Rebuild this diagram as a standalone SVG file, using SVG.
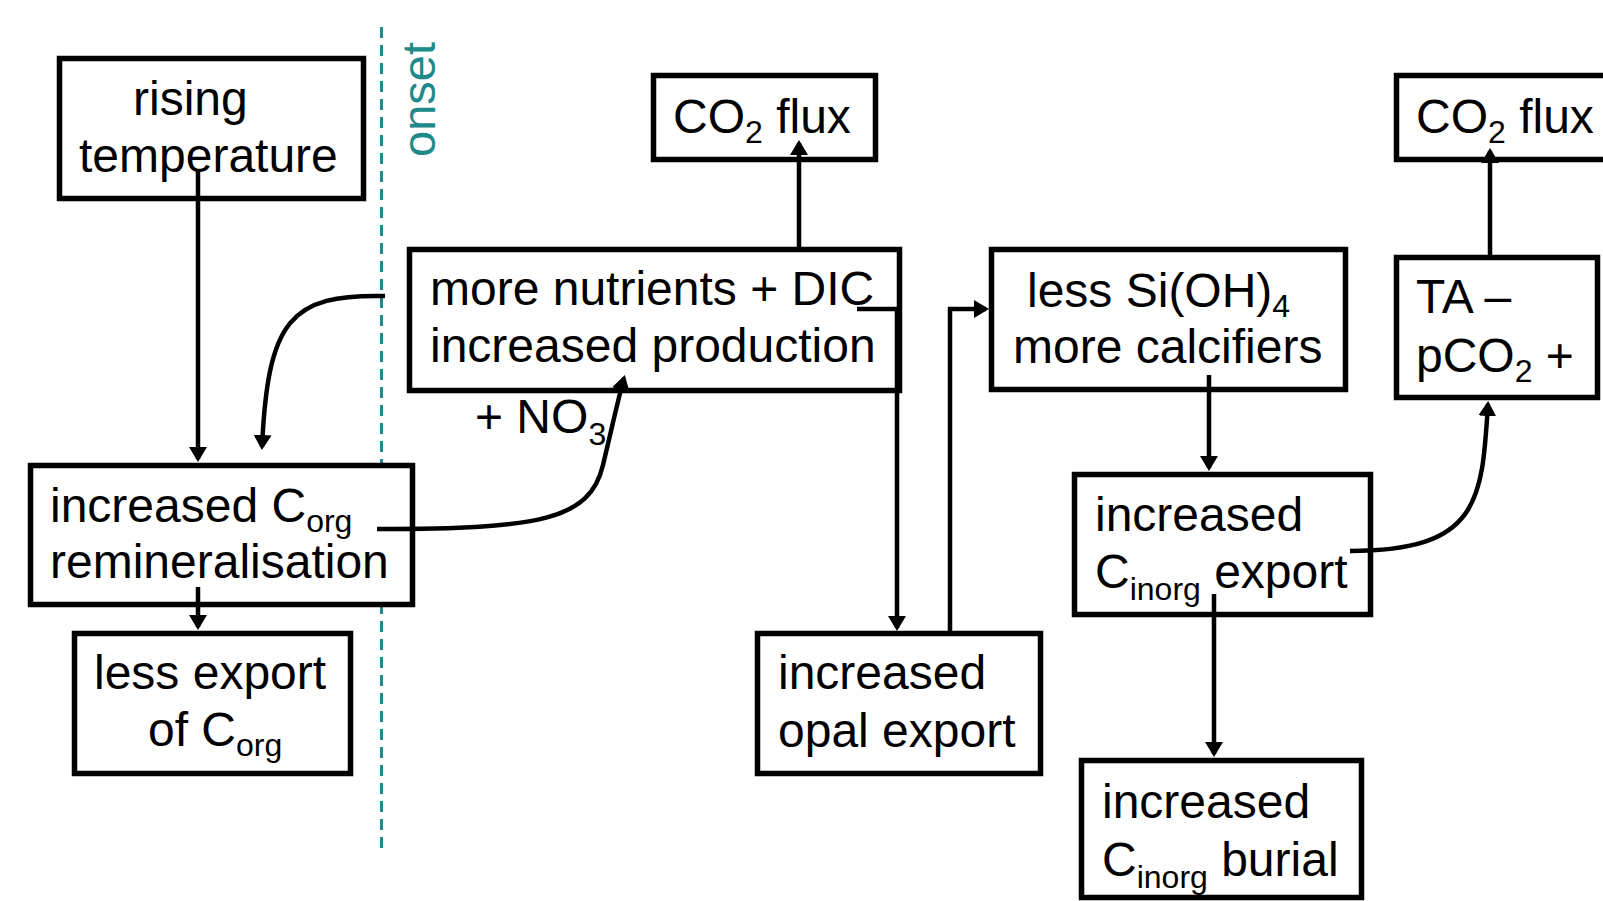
<svg xmlns="http://www.w3.org/2000/svg" width="1603" height="901" viewBox="0 0 1603 901">
<style>
.box{fill:#fff;stroke:#000;stroke-width:5.5}
.t{font-family:"Liberation Sans",Arial,sans-serif;font-size:48px;fill:#000}
.sub{font-size:32px}
.c{fill:none;stroke:#000;stroke-width:4.5}
</style>
<defs>
<marker id="ah" markerUnits="userSpaceOnUse" viewBox="0 0 15 18" markerWidth="15" markerHeight="18" refX="12" refY="9" orient="auto">
<path d="M0,0 L15,9 L0,18 z" fill="#000"/>
</marker>
</defs>
<rect width="1603" height="901" fill="#fff"/>
<g id="onset">
<line x1="381.5" y1="27" x2="381.5" y2="853" stroke="#208a8a" stroke-width="3" stroke-dasharray="11 7"/>
<text class="t" transform="translate(435,157) rotate(-90)" style="font-size:47px;fill:#208a8a">onset</text>
</g>
<g id="rising">
<rect class="box" x="59.5" y="58.5" width="304" height="140"/>
<text class="t" x="133" y="115">rising</text>
<text class="t" x="79" y="172">temperature</text>
</g>
<g id="remin">
<rect class="box" x="30.5" y="465.5" width="382" height="139"/>
<text class="t" x="50" y="522">increased C<tspan class="sub" dy="10">org</tspan></text>
<text class="t" x="50" y="578">remineralisation</text>
</g>
<g id="lessexport">
<rect class="box" x="74.5" y="633.5" width="276" height="140"/>
<text class="t" x="94" y="689">less export</text>
<text class="t" x="148" y="746">of C<tspan class="sub" dy="10">org</tspan></text>
</g>
<g id="production">
<rect class="box" x="409.5" y="249.5" width="490" height="141"/>
<text class="t" x="430" y="305">more nutrients + DIC</text>
<text class="t" x="430" y="362">increased production</text>
</g>
<g id="no3label">
<text class="t" x="475" y="433">+ NO<tspan class="sub" dy="12">3</tspan></text>
</g>
<g id="co2flux1">
<rect class="box" x="653.5" y="75.5" width="222" height="84"/>
<text class="t" x="673" y="133">CO<tspan class="sub" dy="10">2</tspan><tspan dy="-10"> flux</tspan></text>
</g>
<g id="opal">
<rect class="box" x="757.5" y="633.5" width="283" height="140"/>
<text class="t" x="778" y="689">increased</text>
<text class="t" x="778" y="747">opal export</text>
</g>
<g id="calcifiers">
<rect class="box" x="991.5" y="249.5" width="354" height="140"/>
<text class="t" x="1027" y="307">less Si(OH)<tspan class="sub" dy="10">4</tspan></text>
<text class="t" x="1013" y="363">more calcifiers</text>
</g>
<g id="cinorgexport">
<rect class="box" x="1074.5" y="474.5" width="296" height="140"/>
<text class="t" x="1095" y="531">increased</text>
<text class="t" x="1095" y="588">C<tspan class="sub" dy="12">inorg</tspan><tspan dy="-12"> export</tspan></text>
</g>
<g id="burial">
<rect class="box" x="1081.5" y="760.5" width="280" height="137"/>
<text class="t" x="1102" y="818">increased</text>
<text class="t" x="1102" y="876">C<tspan class="sub" dy="12">inorg</tspan><tspan dy="-12"> burial</tspan></text>
</g>
<g id="ta">
<rect class="box" x="1396.5" y="257.5" width="201" height="140"/>
<text class="t" x="1416" y="313">TA –</text>
<text class="t" x="1416" y="372">pCO<tspan class="sub" dy="10">2</tspan><tspan dy="-10"> +</tspan></text>
</g>
<g id="co2flux2">
<rect class="box" x="1396.5" y="75.5" width="215" height="84"/>
<text class="t" x="1416" y="133">CO<tspan class="sub" dy="10">2</tspan><tspan dy="-10"> flux</tspan></text>
</g>
<g id="connectors">
<path class="c" d="M198 170 V459" marker-end="url(#ah)"/>
<path class="c" d="M385 296 C290 294 268 320 262 447" marker-end="url(#ah)"/>
<path class="c" d="M198 587 V627" marker-end="url(#ah)"/>
<path class="c" d="M377 529 C540 529 590 520 603 465 S618 400 624 378" marker-end="url(#ah)"/>
<path class="c" d="M799 247 V143" marker-end="url(#ah)"/>
<path class="c" d="M857 309 H897 V628" marker-end="url(#ah)"/>
<path class="c" d="M950 631 V309 H986" marker-end="url(#ah)"/>
<path class="c" d="M1209 375 V468" marker-end="url(#ah)"/>
<path class="c" d="M1214 594 V754" marker-end="url(#ah)"/>
<path class="c" d="M1350 551 C1480 551 1482 500 1488 404" marker-end="url(#ah)"/>
<path class="c" d="M1490 255 V151" marker-end="url(#ah)"/>
</g>
</svg>
